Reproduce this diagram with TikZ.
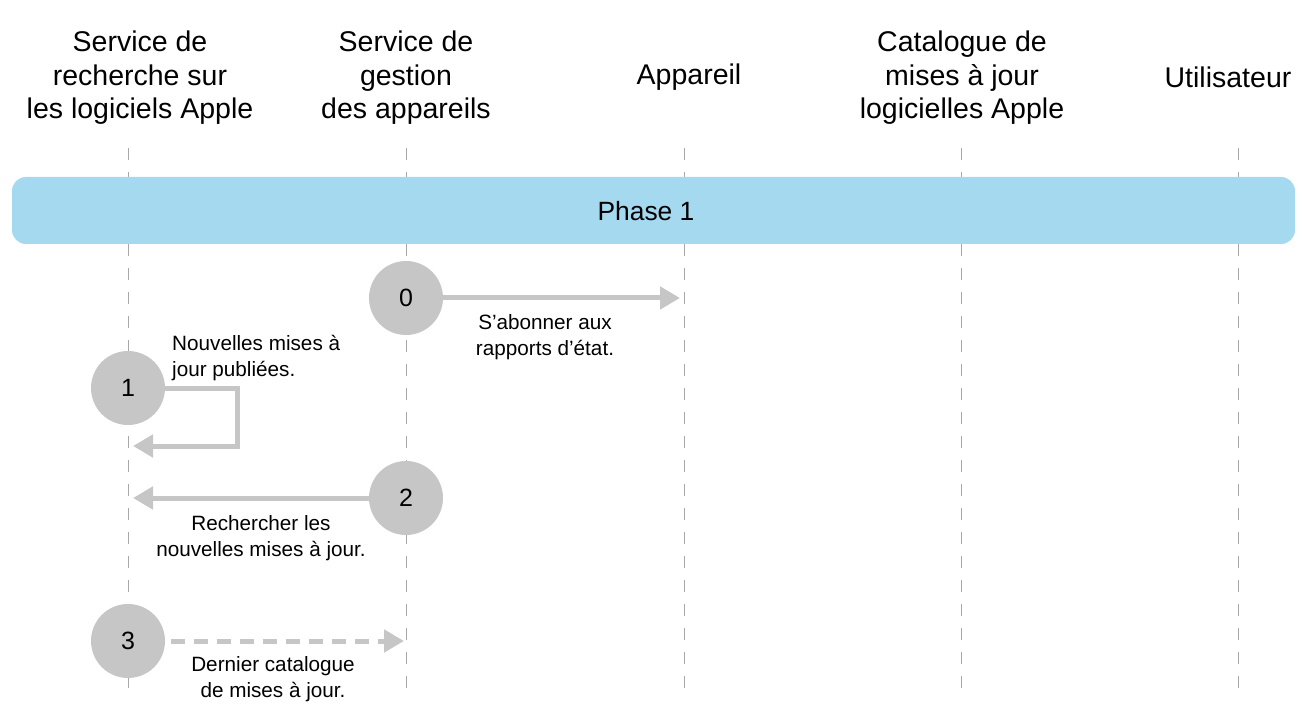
\documentclass[tikz,border=0pt]{standalone}
\usepackage{fontspec}
\setmainfont{Liberation Sans}
\usetikzlibrary{arrows.meta}
\definecolor{band}{HTML}{A4D9F0}
\definecolor{circ}{HTML}{C6C6C6}
\definecolor{life}{HTML}{A8A8A8}
\begin{document}
\begin{tikzpicture}[x=1pt,y=-1pt,
 hdr/.style={align=center, font=\fontsize{28.5}{33.5}\selectfont, inner sep=0},
 lbl/.style={align=center, font=\fontsize{20.7}{25.5}\selectfont, inner sep=0},
 num/.style={circle, fill=circ, minimum size=74pt, inner sep=0, font=\fontsize{25}{25}\selectfont},
 lifeline/.style={draw=life, line width=1pt, dash pattern=on 12pt off 12pt},
 msg/.style={draw=circ, line width=5pt, line join=miter, -{Triangle[length=20pt,width=22pt]}},
]
\useasboundingbox (0,0) rectangle (1303,708);
% headers
\node[hdr] (h1) at (140,78) {Service de\\recherche sur\\les logiciels Apple};
\node[hdr] (h2) at (406,78) {Service de\\gestion\\des appareils};
\node[hdr] (h3) at (689,77) {Appareil};
\node[hdr] (h4) at (962,78) {Catalogue de\\mises à jour\\logicielles Apple};
\node[hdr] (h5) at (1228,77) {Utilisateur};
% lifelines
\foreach \n/\x in {1/128,2/406,3/684,4/961,5/1238}{
  \coordinate (t\n) at (\x,148);
  \coordinate (b\n) at (\x,688);
  \draw[lifeline] (t\n) -- (b\n);
}
% phase band
\node[fill=band, rounded corners=14pt, minimum width=1283pt, minimum height=67pt, inner sep=0] (phase) at (653.5,210.5) {};
\node[inner sep=0, font=\fontsize{26.4}{26.4}\selectfont] (phasetxt) at (646,211) {Phase 1};
% circles
\node[num] (c0) at (406,298) {0};
\node[num] (c1) at (128,388) {1};
\node[num] (c2) at (406,498) {2};
\node[num] (c3) at (128,641) {3};
% connector coordinates
\coordinate (a0) at (680,298);
\coordinate (k1) at (237,388);
\coordinate (k2) at (237,446);
\coordinate (a1) at (133,446);
\coordinate (a2) at (133,498);
\coordinate (a3) at (404,641);
% connectors
\draw[msg] (c0.east) -- (a0);
\draw[msg] (c1.east) -- (k1) -- (k2) -- (a1);
\draw[msg] (c2.west) -- (a2);
\draw[msg, dash pattern=on 14pt off 9pt, shorten <=6pt] (c3.east) -- (a3);
% labels
\node[lbl] (l0) at (545,337) {S’abonner aux\\rapports d’état.};
\node[lbl, align=left, anchor=west] (l1) at (172,358) {Nouvelles mises à\\jour publiées.};
\node[lbl] (l2) at (261,538) {Rechercher les\\nouvelles mises à jour.};
\node[lbl] (l3) at (273,679) {Dernier catalogue\\de mises à jour.};
\end{tikzpicture}
\end{document}
